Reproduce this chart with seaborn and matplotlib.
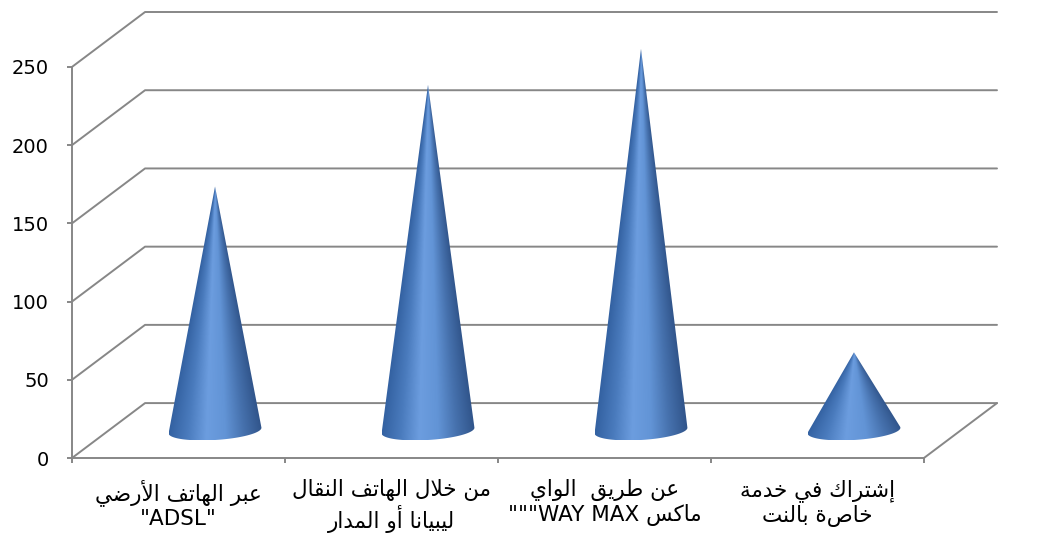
import re

import numpy as np
import matplotlib
matplotlib.use("Agg")
import matplotlib.pyplot as plt
from matplotlib.patches import Polygon
import seaborn as sns

# data
categories = [
    "عبر الهاتف الأرضي\n\"ADSL\"",
    "من خلال الهاتف النقال\nليبيانا أو المدار",
    "عن طريق  الواي\nماكس WAY MAX\"\"\"",
    "إشتراك في خدمة\nخاصة بالنت",
]
values = [156, 221, 244, 50]
y_ticks = [0, 50, 100, 150, 200, 250]

# arabic letter forms: isolated, final, initial, medial
FORMS = {
    "ا": ("\ufe8d", "\ufe8e", None, None),
    "أ": ("\ufe83", "\ufe84", None, None),
    "إ": ("\ufe87", "\ufe88", None, None),
    "ب": ("\ufe8f", "\ufe90", "\ufe91", "\ufe92"),
    "ة": ("\ufe93", "\ufe94", None, None),
    "ت": ("\ufe95", "\ufe96", "\ufe97", "\ufe98"),
    "خ": ("\ufea5", "\ufea6", "\ufea7", "\ufea8"),
    "د": ("\ufea9", "\ufeaa", None, None),
    "ر": ("\ufead", "\ufeae", None, None),
    "س": ("\ufeb1", "\ufeb2", "\ufeb3", "\ufeb4"),
    "ش": ("\ufeb5", "\ufeb6", "\ufeb7", "\ufeb8"),
    "ض": ("\ufebd", "\ufebe", "\ufebf", "\ufec0"),
    "ط": ("\ufec1", "\ufec2", "\ufec3", "\ufec4"),
    "ع": ("\ufec9", "\ufeca", "\ufecb", "\ufecc"),
    "ف": ("\ufed1", "\ufed2", "\ufed3", "\ufed4"),
    "ق": ("\ufed5", "\ufed6", "\ufed7", "\ufed8"),
    "ك": ("\ufed9", "\ufeda", "\ufedb", "\ufedc"),
    "ل": ("\ufedd", "\ufede", "\ufedf", "\ufee0"),
    "م": ("\ufee1", "\ufee2", "\ufee3", "\ufee4"),
    "ن": ("\ufee5", "\ufee6", "\ufee7", "\ufee8"),
    "ه": ("\ufee9", "\ufeea", "\ufeeb", "\ufeec"),
    "و": ("\ufeed", "\ufeee", None, None),
    "ي": ("\ufef1", "\ufef2", "\ufef3", "\ufef4"),
}
LAM_ALEF = {
    "ا": ("\ufefb", "\ufefc", None, None),
    "أ": ("\ufef7", "\ufef8", None, None),
    "إ": ("\ufef9", "\ufefa", None, None),
}


def shape_line(line):
    # join the letters, then put the line in visual (right-to-left) order
    units = []
    i = 0
    while i < len(line):
        ch = line[i]
        if ch == "ل" and i + 1 < len(line) and line[i + 1] in LAM_ALEF:
            units.append(LAM_ALEF[line[i + 1]])
            i += 2
            continue
        units.append(FORMS.get(ch, ch))
        i += 1
    out = []
    for k, u in enumerate(units):
        if isinstance(u, str):
            out.append(u)
            continue
        prev = units[k - 1] if k > 0 else None
        nxt = units[k + 1] if k + 1 < len(units) else None
        to_prev = isinstance(prev, tuple) and prev[2] is not None
        to_next = isinstance(nxt, tuple) and u[2] is not None
        if to_prev and to_next:
            out.append(u[3])
        elif to_prev:
            out.append(u[1])
        elif to_next:
            out.append(u[2])
        else:
            out.append(u[0])
    tokens = re.findall(r"[A-Za-z0-9]+(?: [A-Za-z0-9]+)*|.", "".join(out))
    return "".join(reversed(tokens))


labels = ["\n".join(shape_line(l) for l in c.split("\n")) for c in categories]

sns.set_style("white")
plt.rcParams["font.family"] = ["DejaVu Sans"]

GRID = "#878787"
DX, DY = 0.343, 35.1      # depth offset of the back wall (x units, y units)
RX, RY = 0.209, 6.3       # cone base radius
shear = RY * DX / DY

cone_cmap = sns.blend_palette(
    ["#3462a2", "#4a7bbd", "#6c9ddf", "#6294d6", "#4671ad", "#30548a"], as_cmap=True
)

fig = plt.figure(figsize=(10.57, 5.55), dpi=100)
ax = fig.add_axes([72 / 1057, 97 / 555, 925 / 1057, 446 / 555])

# walls / floor
for v in y_ticks:
    ax.plot([-0.5, -0.5 + DX, 3.5 + DX], [v, v + DY, v + DY],
            color=GRID, lw=1.4, clip_on=False, zorder=1)
ax.plot([3.5, 3.5 + DX], [0, DY], color=GRID, lw=1.4, clip_on=False, zorder=1)

# cones
t = np.linspace(-np.pi - 0.6, 0.6, 400)
for i, v in enumerate(values):
    cx, cy = i + DX / 2, DY / 2
    tip_x, tip_y = cx, cy + v
    ex = cx + RX * np.cos(t) + shear * np.sin(t)
    ey = cy + RY * np.sin(t)
    ratio = (ex - tip_x) / (tip_y - ey)
    il, ir = np.argmin(ratio), np.argmax(ratio)
    px = np.concatenate([[tip_x], ex[il:ir + 1]])
    py = np.concatenate([[tip_y], ey[il:ir + 1]])
    poly = Polygon(np.column_stack([px, py]), closed=True,
                   facecolor="none", edgecolor="none", zorder=3)
    ax.add_patch(poly)
    gx = np.linspace(px.min(), px.max(), 300)
    gy = np.linspace(py.min(), py.max(), 500)
    GX, GY = np.meshgrid(gx, gy)
    u = (GX - tip_x) / np.maximum(tip_y - GY, 1e-6)
    shade = np.clip((u - ratio[il]) / (ratio[ir] - ratio[il]), 0, 1)
    im = ax.imshow(shade, extent=[gx[0], gx[-1], gy[0], gy[-1]], origin="lower",
                   cmap=cone_cmap, vmin=0, vmax=1, aspect="auto",
                   interpolation="bilinear", zorder=3)
    im.set_clip_path(poly)

ax.set_xlim(-0.5, 3.5 + DX)
ax.set_ylim(0, 250 + DY)

sns.despine(ax=ax)
for side in ["left", "bottom"]:
    ax.spines[side].set_color(GRID)
    ax.spines[side].set_linewidth(1.4)
ax.spines["left"].set_bounds(0, 250)
ax.spines["bottom"].set_bounds(-0.5, 3.5)

ax.set_yticks(y_ticks)
ax.set_yticklabels([str(v) for v in y_ticks])
ax.set_xticks(np.arange(-0.5, 4.0, 1.0))
ax.set_xticklabels([])
ax.set_xticks(np.arange(4), minor=True)
ax.set_xticklabels(labels, minor=True, linespacing=1.2)

ax.tick_params(axis="y", direction="out", length=3.6, width=1.4, color=GRID,
               pad=13, labelsize=14, labelcolor="black", left=True)
ax.tick_params(axis="x", which="major", direction="out", length=3.6, width=1.4,
               color=GRID, bottom=True)
ax.tick_params(axis="x", which="minor", length=0, pad=15, labelsize=15.5,
               labelcolor="black")

fig.savefig("out.png", dpi=100)
